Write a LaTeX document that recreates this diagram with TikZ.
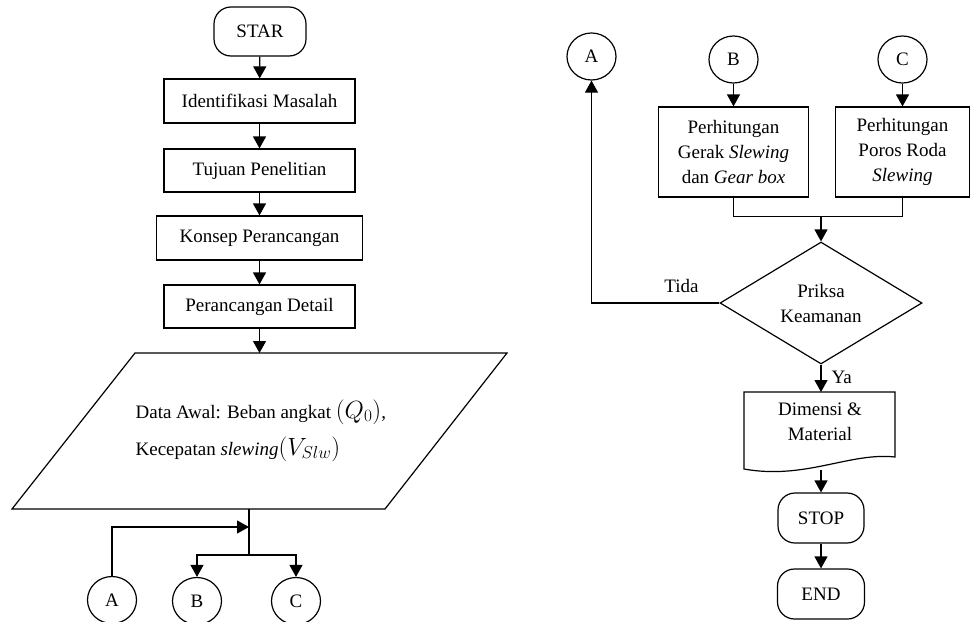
\documentclass[tikz,border=0pt]{standalone}
\usepackage{fontspec}
\setmainfont{Liberation Serif}
\usetikzlibrary{arrows.meta,shapes.geometric}
\begin{document}
\begin{tikzpicture}[x=1pt,y=-1pt,
  font=\fontsize{19}{25}\selectfont,
  line width=1.2pt,
  >={Triangle[width=13pt,length=12pt]},
  procbox/.style={draw, rectangle, inner sep=0pt, align=center},
  termbox/.style={draw, rectangle, rounded corners=17pt, inner sep=0pt},
  conn/.style={draw, ellipse, inner sep=0pt, minimum width=49pt, minimum height=47pt},
  decision/.style={draw, diamond, inner sep=0pt, minimum width=202pt, minimum height=122pt, align=center},
  plain/.style={inner sep=0pt}
]
\useasboundingbox (0,0) rectangle (971,621);

% ---------- left column ----------
\node[termbox, minimum width=92pt, minimum height=49pt] (star) at (260,31.5) {STAR};
\node[procbox, minimum width=191pt, minimum height=44pt] (ident) at (259.5,101) {Identifikasi Masalah};
\node[procbox, minimum width=191pt, minimum height=43pt] (tujuan) at (259.5,170.5) {Tujuan Penelitian};
\node[procbox, minimum width=206pt, minimum height=44pt] (konsep) at (259.5,238) {Konsep Perancangan};
\node[procbox, minimum width=191pt, minimum height=43pt] (detail) at (259.5,306.5) {Perancangan Detail};

\draw[->] (star) -- (ident);
\draw[->] (ident) -- (tujuan);
\draw[->] (tujuan) -- (konsep);
\draw[->] (konsep) -- (detail);

% parallelogram (input data)
\draw (135,353) -- (507,353) -- (385,509) -- (12,509) -- cycle;
\coordinate (paratop) at (259.5,353);
\coordinate (parabot) at (249,509);
\draw[->] (detail) -- (paratop);
\node[plain, anchor=base west] (data1) at (135,418) {Data Awal: Beban angkat {\fontsize{23}{25}\selectfont$(Q_0)$},};
\node[plain, anchor=base west] (data2) at (135,455) {Kecepatan \textit{slewing}{\fontsize{23}{25}\selectfont$(V_{Slw})$}};

% connectors below
\node[conn] (Al) at (112,600) {A};
\node[conn] (Bl) at (197,601) {B};
\node[conn] (Cl) at (296,601) {C};
\coordinate (j1) at (249,527);
\coordinate (j2) at (249,555);
\draw (parabot) -- (j2);
\draw[->] (Al.north) |- (j1);
\draw[->] (j2) -| (Bl);
\draw[->] (j2) -| (Cl);

% ---------- right column ----------
\node[conn] (Ar) at (591.5,56.5) {A};
\node[conn] (Br) at (733.5,59.5) {B};
\node[conn] (Cr) at (902.5,59.5) {C};

\node[procbox, minimum width=150pt, minimum height=90pt] (gerak) at (733.5,152) {Perhitungan\\Gerak \textit{Slewing}\\dan \textit{Gear box}};
\node[procbox, minimum width=134pt, minimum height=90pt] (poros) at (902.5,152) {Perhitungan\\Poros Roda\\\textit{Slewing}};

\draw[->] (Br) -- (gerak);
\draw[->] (Cr) -- (poros);

\coordinate (mj) at (821,216);
\draw (gerak.south) -- ++(0,19) -| (poros.south);

\node[decision] (dia) at (821,303) {Priksa\\Keamanan};
\draw[->] (mj) -- (dia.north);

\draw[->] (dia.west) -| (Ar.south);
\node[plain, anchor=base] (tida) at (681.5,292) {Tida};

% document shape
\draw (744,392) -- (895,392) -- (895,457)
  .. controls (850,452) and (805,480) .. (744,469) -- cycle;
\coordinate (doctop) at (821,392);
\coordinate (docbot) at (821,470);
\node[plain, align=center] (doctext) at (820,422) {Dimensi \&\\Material};
\draw[->] (dia.south) -- (doctop);
\node[plain, anchor=west] (ya) at (831,377) {Ya};

\node[termbox, minimum width=86pt, minimum height=50pt] (stop) at (821,518) {STOP};
\node[termbox, minimum width=87pt, minimum height=50pt] (endn) at (821,594) {END};
\draw[->] (docbot) -- (stop);
\draw[->] (stop) -- (endn);
\end{tikzpicture}
\end{document}
